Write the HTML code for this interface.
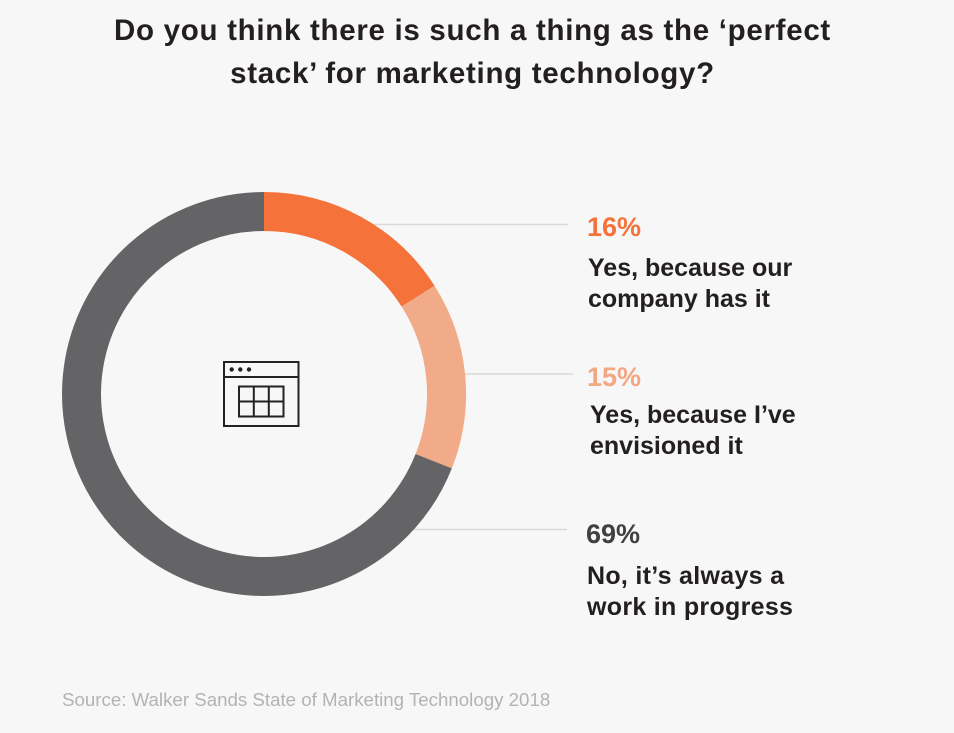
<!DOCTYPE html>
<html>
<head>
<meta charset="utf-8">
<style>
  html, body { margin: 0; padding: 0; background: #f7f7f7; }
  body { width: 954px; height: 733px; overflow: hidden; }
  svg { display: block; }
  text { font-family: "Liberation Sans", "DejaVu Sans", sans-serif; }
</style>
</head>
<body>
<svg width="954" height="733" viewBox="0 0 954 733" xmlns="http://www.w3.org/2000/svg">
  <rect x="0" y="0" width="954" height="733" fill="#f7f7f7"/>

  <!-- Title -->
  <text x="472.5" y="40" text-anchor="middle" font-size="29.5" font-weight="bold" fill="#231f20" letter-spacing="0.7">Do you think there is such a thing as the ‘perfect</text>
  <text x="472.5" y="83" text-anchor="middle" font-size="29.5" font-weight="bold" fill="#231f20" letter-spacing="0.7">stack’ for marketing technology?</text>

  <!-- Leader lines -->
  <line x1="372" y1="224.5" x2="568" y2="224.5" stroke="#d9d9d9" stroke-width="1.5"/>
  <line x1="462" y1="374" x2="573" y2="374" stroke="#d9d9d9" stroke-width="1.5"/>
  <line x1="410" y1="529.5" x2="567" y2="529.5" stroke="#d9d9d9" stroke-width="1.5"/>

  <!-- Donut -->
  <g fill="none" stroke-width="39">
    <path d="M264,211.5 A182.5,182.5 0 0 1 418.1,296.2" stroke="#f5733b"/>
    <path d="M418.1,296.2 A182.5,182.5 0 0 1 433.7,461.2" stroke="#f2ab89"/>
    <path d="M433.7,461.2 A182.5,182.5 0 1 1 264,211.5" stroke="#646466"/>
  </g>

  <!-- Icon -->
  <g fill="none" stroke="#222222" stroke-width="2">
    <rect x="224" y="362" width="74.5" height="64"/>
    <line x1="224" y1="377" x2="298.5" y2="377"/>
    <rect x="239" y="386.5" width="44.5" height="30"/>
    <line x1="253.8" y1="386.5" x2="253.8" y2="416.5"/>
    <line x1="268.8" y1="386.5" x2="268.8" y2="416.5"/>
    <line x1="239" y1="401.5" x2="283.5" y2="401.5"/>
  </g>
  <g fill="#222222">
    <circle cx="231.7" cy="369.5" r="2.2"/>
    <circle cx="240.3" cy="369.5" r="2.2"/>
    <circle cx="249" cy="369.5" r="2.2"/>
  </g>

  <!-- Labels -->
  <text x="587" y="236" font-size="27" font-weight="bold" fill="#f5733b">16%</text>
  <text x="588" y="276" font-size="25" font-weight="bold" fill="#231f20">Yes, because our</text>
  <text x="588" y="307" font-size="25" font-weight="bold" fill="#231f20">company has it</text>

  <text x="587" y="386" font-size="27" font-weight="bold" fill="#f3a884">15%</text>
  <text x="590" y="423" font-size="25" font-weight="bold" fill="#231f20">Yes, because I’ve</text>
  <text x="590" y="454" font-size="25" font-weight="bold" fill="#231f20">envisioned it</text>

  <text x="586" y="543" font-size="27" font-weight="bold" fill="#404041">69%</text>
  <text x="587" y="584" font-size="25" font-weight="bold" fill="#231f20" letter-spacing="0.3">No, it’s always a</text>
  <text x="587" y="615" font-size="25" font-weight="bold" fill="#231f20" letter-spacing="0.3">work in progress</text>

  <!-- Source -->
  <text x="62" y="706" font-size="18.7" fill="#b3b3b3">Source: Walker Sands State of Marketing Technology 2018</text>
</svg>
</body>
</html>
